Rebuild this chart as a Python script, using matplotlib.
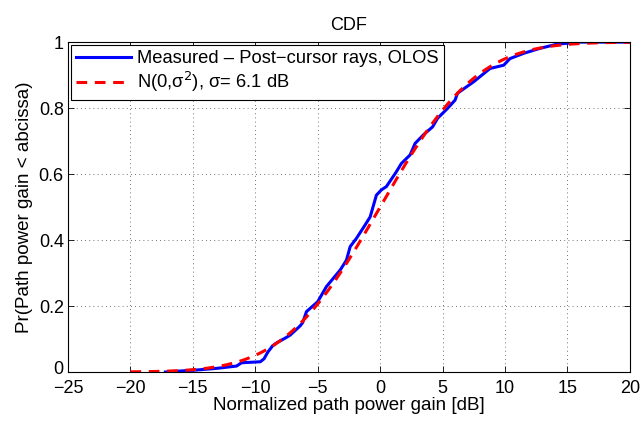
import numpy as np
import matplotlib.pyplot as plt
import matplotlib.transforms as mtransforms
from math import erf, sqrt

plt.rcParams['font.family'] = ['Liberation Sans', 'DejaVu Sans']

# measured empirical CDF (normalized path gain in dB, probability)
meas_x = [-17.2, -16.0, -14.7, -13.1, -11.5, -11.1, -9.6, -9.3, -9.0, -8.6, -8.3,
          -7.5, -7.2, -6.4, -6.2, -5.9, -5.0, -4.3, -3.2, -2.7, -2.4, -1.9,
          -1.3, -0.8, -0.3, 0.1, 0.5, 1.0, 1.3, 1.7, 2.4, 2.8, 3.5, 4.2, 4.6,
          5.0, 5.4, 6.0, 6.2, 7.5, 8.8, 9.9, 10.4, 11.5, 12.8, 14.2, 15.5, 16.0, 20.0]
meas_y = [0.0, 0.003, 0.006, 0.011, 0.018, 0.028, 0.031, 0.040, 0.060, 0.080, 0.088,
          0.105, 0.112, 0.140, 0.150, 0.183, 0.213, 0.259, 0.309, 0.339, 0.380, 0.405,
          0.440, 0.470, 0.536, 0.552, 0.562, 0.590, 0.607, 0.632, 0.658, 0.693, 0.720, 0.743, 0.769,
          0.784, 0.799, 0.824, 0.845, 0.880, 0.920, 0.930, 0.950, 0.966, 0.981, 0.994, 0.998, 1.0, 1.0]

sigma = 6.1
fit_x = np.linspace(-20, 20, 400)
fit_y = np.array([0.5 * (1 + erf(v / (sigma * sqrt(2)))) for v in fit_x])

fig = plt.figure(figsize=(6.44, 4.21), dpi=100)
ax = fig.add_axes([0.1056, 0.1164, 0.8724, 0.7836])

ax.plot(meas_x, meas_y, color='#0000ff', lw=2.2,
        label='Measured \u2013 Post\u2212cursor rays, OLOS')
ax.plot(fit_x, fit_y, color='#ff0000', lw=2.2, ls=(0, (3.5, 2.5)),
        label='N(0,\u03c3$^2$), \u03c3= 6.1 dB')

ax.set_xlim(-25, 20)
ax.set_ylim(0, 1)
ax.set_xticks(np.arange(-25, 21, 5))
ax.set_yticks([0, 0.2, 0.4, 0.6, 0.8, 1])
ax.set_yticklabels(['0', '0.2', '0.4', '0.6', '0.8', '1'])
ax.tick_params(direction='in', top=True, right=True, labelsize=13, length=4, width=0.6)
ax.tick_params(axis='x', pad=5.5)
ax.tick_params(axis='y', pad=3)
ax.grid(True, ls=(0, (1, 4)), color='#444444', lw=0.6)
for s in ax.spines.values():
    s.set_linewidth(0.8)

# lift the bottom y label a little so it clears the first x label
lbl0 = ax.get_yticklabels()[0]
lbl0.set_transform(lbl0.get_transform() +
                   mtransforms.ScaledTranslation(0, 3 / 72, fig.dpi_scale_trans))

ax.set_xlabel('Normalized path power gain [dB]', fontsize=13.5, labelpad=0)
ax.set_ylabel('Pr(Path power gain < abcissa)', fontsize=13.5, labelpad=4)
ax.set_title('CDF', fontsize=13, pad=9)

leg = ax.legend(loc='upper left', fontsize=13.2, fancybox=False, framealpha=1,
                edgecolor='black', borderaxespad=0.15, handlelength=3.0,
                handletextpad=0.3, borderpad=0.3, labelspacing=0.15)
leg.get_frame().set_linewidth(0.8)

fig.savefig('out.png', dpi=100)
